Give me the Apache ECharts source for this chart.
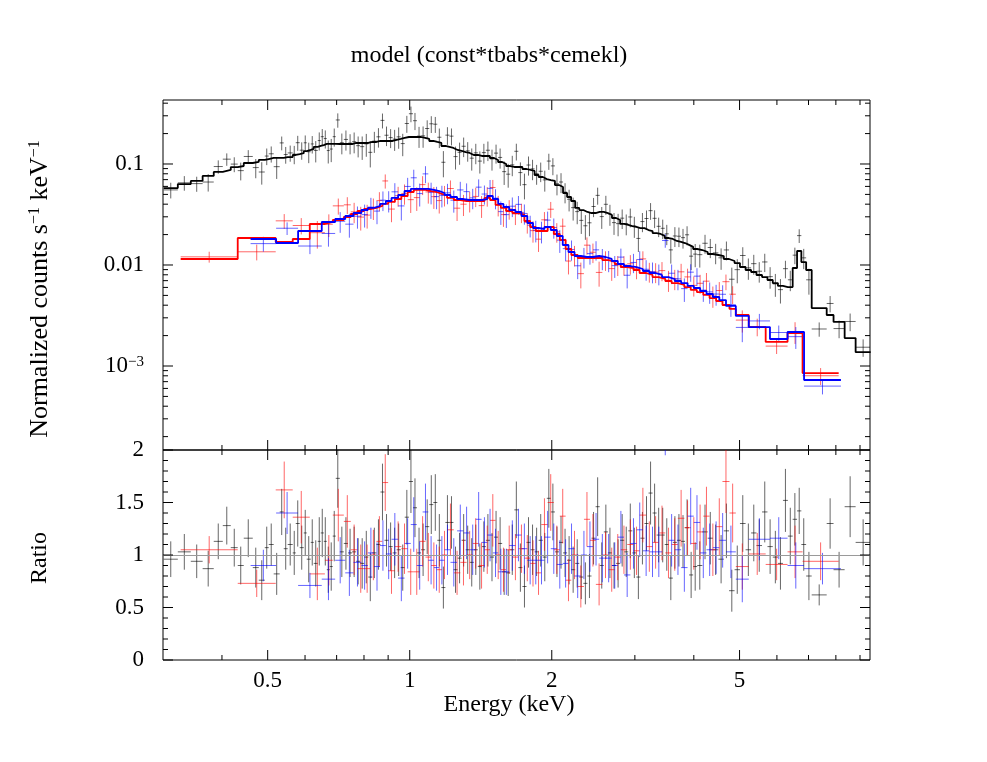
<!DOCTYPE html>
<html><head><meta charset="utf-8">
<script src="https://cdn.jsdelivr.net/npm/echarts@6/dist/echarts.min.js"></script>
<style>html,body{margin:0;padding:0;background:#fff}#c{width:987px;height:762px}</style>
</head><body><div id="c"></div>
<script>
// ---------- data (energy bin edges in keV, model in counts/s/keV, data/model ratio, ratio error) ----------
const blackEdges = [0.301,0.3225,0.3436,0.364,0.3843,0.4016,0.4176,0.432,0.4449,0.4649,0.4787,0.4929,0.5026,0.5149,0.5302,0.5407,0.5513,0.565,0.5734,0.5846,0.5962,0.605,0.6169,0.626,0.6384,0.6478,0.6574,0.6672,0.6768,0.6868,0.697,
0.711,0.725,0.740,0.755,0.770,0.785,0.801,0.817,0.833,0.850,
0.867,0.884,0.902,0.920,0.938,0.957,0.976,0.996,1.016,1.036,
1.057,1.078,1.100,1.122,1.144,1.167,1.190,1.214,1.238,1.263,
1.288,1.314,1.340,1.367,1.394,1.422,1.450,1.479,1.509,1.539,
1.570,1.601,1.633,1.666,1.699,1.733,1.768,1.803,1.839,1.876,
1.914,1.952,1.991,2.031,2.072,2.113,2.155,2.198,2.242,2.287,
2.333,2.380,2.428,2.477,2.527,2.578,2.630,2.683,2.737,2.792,
2.848,2.905,2.963,3.022,3.082,3.144,3.207,3.271,3.336,3.403,
3.471,3.540,3.611,3.683,3.757,3.832,3.909,3.987,4.067,
4.17,4.28,4.39,4.51,4.63,4.75,4.88,5.01,5.15,5.29,
5.43,5.58,5.73,5.88,6.03,6.18,6.33,6.48,6.62,6.76,
6.92,7.11,7.65,7.91,8.35,8.81,9.48];
const blackModel = [0.0577,0.0632,0.0680,0.0762,0.0835,0.0872,0.0932,0.0955,0.1023,0.1047,
0.1096,0.112,0.1147,0.1147,0.1147,0.117,0.117,0.1228,0.125,0.128,
0.134,0.1377,0.141,0.148,0.151,0.154,0.158,0.158,0.158,0.158,
0.1577,0.1577,0.1577,0.1577,0.1614,0.1614,0.1614,0.1614,0.1651,0.1651,
0.1689,0.1689,0.1689,0.1689,0.1728,0.1768,0.1809,0.1850,0.1850,0.1850,
0.1850,0.1809,0.1768,0.1689,0.1651,0.1614,0.1507,0.1473,0.1440,0.1376,
0.1345,0.1314,0.1285,0.1228,0.1228,0.1200,0.1200,0.1200,0.1146,0.1095,
0.1046,0.1000,0.0955,0.0934,0.0934,0.0934,0.0892,0.0872,0.0853,0.0778,
0.0743,0.0710,0.0694,0.0679,0.0619,0.0592,0.0516,0.0471,0.0430,0.0367,
0.0350,0.0335,0.0327,0.0327,0.0335,0.0335,0.0327,0.0313,0.0292,0.0279,
0.0255,0.0249,0.0243,0.0238,0.0232,0.0232,0.0222,0.0217,0.0207,0.0203,
0.0194,0.0185,0.0181,0.0173,0.0169,0.0165,0.0158,0.0151,0.0144,
0.01407,0.01345,0.01285,0.01256,0.01227,0.01146,0.01095,0.01046,0.00955,0.00892,
0.00852,0.00796,0.00760,0.00710,0.00663,0.00620,0.00605,0.00605,0.00934,0.01376,
0.01070,0.00892,0.00375,0.00320,0.00273,0.00189,0.00137];
const blackRatio = [0.96,1.03,0.94,0.87,1.13,1.28,1.07,0.90,1.16,0.88,
0.76,1.07,1.10,0.82,1.41,1.06,1.10,1.02,1.30,1.07,
1.21,0.96,1.12,0.92,1.13,1.21,1.13,0.86,0.89,1.18,
1.73,1.03,1.11,1.02,1.03,0.94,0.92,0.98,0.79,1.02,
1.10,1.60,1.14,1.08,1.02,1.05,0.88,1.36,1.70,1.45,
1.02,1.05,1.27,1.48,1.50,1.14,0.69,1.31,1.31,0.86,
0.97,1.14,1.05,0.93,1.05,0.89,1.08,1.14,0.98,1.17,
1.11,0.84,0.83,1.05,1.43,0.88,0.70,1.12,1.05,1.03,
1.14,0.98,1.54,1.41,1.03,1.12,1.02,0.95,0.86,0.92,
0.79,0.73,0.80,1.16,1.46,0.90,1.22,1.02,0.90,0.92,
1.14,1.03,1.23,1.02,0.79,1.16,1.30,1.59,1.40,1.19,
1.19,1.10,0.78,1.12,1.14,1.13,1.26,0.81,0.89,
0.90,1.22,1.16,1.05,0.96,1.23,0.66,0.86,1.30,1.05,
1.21,1.09,1.41,1.08,0.98,0.92,1.52,1.18,1.34,1.42,
1.10,0.80,0.62,1.30,0.86,1.46,1.12];
const blackErr = [0.17,0.17,0.16,0.17,0.17,0.18,0.18,0.18,0.18,0.19,
0.19,0.2,0.2,0.2,0.22,0.2,0.2,0.21,0.22,0.21,
0.22,0.22,0.22,0.22,0.23,0.23,0.23,0.22,0.23,0.24,
0.28,0.24,0.25,0.23,0.24,0.22,0.24,0.25,0.23,0.24,
0.24,0.27,0.25,0.23,0.24,0.25,0.22,0.26,0.3,0.28,
0.24,0.25,0.26,0.28,0.27,0.25,0.2,0.26,0.25,0.22,
0.24,0.25,0.23,0.23,0.24,0.22,0.24,0.25,0.23,0.25,
0.25,0.22,0.22,0.24,0.27,0.23,0.2,0.24,0.24,0.23,
0.25,0.23,0.28,0.27,0.24,0.25,0.23,0.23,0.22,0.23,
0.21,0.2,0.21,0.25,0.28,0.22,0.26,0.24,0.22,0.23,
0.25,0.24,0.26,0.24,0.21,0.25,0.26,0.3,0.28,0.26,
0.26,0.25,0.21,0.25,0.25,0.25,0.27,0.22,0.23,
0.23,0.26,0.25,0.24,0.23,0.26,0.2,0.23,0.27,0.25,
0.27,0.25,0.29,0.26,0.25,0.25,0.3,0.27,0.25,0.22,
0.25,0.23,0.10,0.24,0.17,0.29,0.22];

const redEdges = [0.327,0.432,0.520,0.565,0.614,0.661,0.687,0.725,0.75,0.775,
0.80,0.825,0.85,0.875,0.90,0.93,0.96,0.99,1.02,1.05,
1.08,1.11,1.14,1.17,1.20,1.24,1.28,1.32,1.36,1.40,
1.44,1.48,1.52,1.56,1.60,1.65,1.70,1.75,1.80,1.85,
1.90,1.96,2.02,2.08,2.14,2.20,2.27,2.34,2.41,2.48,
2.56,2.64,2.72,2.80,2.89,2.98,3.07,3.17,3.27,3.37,
3.48,3.59,3.70,3.82,3.94,4.06,4.19,4.32,4.46,4.60,
4.76,4.91,5.23,5.68,6.32,6.80,8.11];
const redModel = [0.01147,0.01851,0.01689,0.01809,0.02547,0.02665,0.0279,0.02987,0.03199,0.03425,
0.03585,0.03669,0.03839,0.0402,0.0421,0.045,0.0482,0.0528,0.0553,0.0553,
0.054,0.0528,0.0505,0.0493,0.0461,0.044,0.043,0.043,0.043,0.043,
0.0461,0.044,0.0393,0.03669,0.03425,0.0327,0.0313,0.02727,0.02378,0.02171,
0.02171,0.02378,0.02027,0.01768,0.0144,0.01256,0.01173,0.01173,0.01173,0.01173,
0.0112,0.01071,0.01023,0.00955,0.00934,0.00892,0.00833,0.00796,0.0076,0.00727,
0.00694,0.00663,0.00634,0.00605,0.00566,0.0054,0.00505,0.00471,0.0044,0.00402,
0.00367,0.0032,0.00243,0.00173,0.00212,0.000852];
const redRatio = [1.05,0.73,1.62,1.36,0.82,0.95,1.38,1.32,1.05,0.87,
0.87,1.0,1.13,1.69,0.85,1.08,1.06,0.84,0.84,1.13,
0.98,0.90,0.86,1.0,1.24,0.83,0.93,1.0,1.11,0.90,
1.05,1.33,1.0,0.86,1.05,0.98,1.06,0.97,0.92,0.83,
1.29,1.50,1.05,1.37,0.76,1.0,0.70,1.34,1.14,0.72,
1.0,0.86,0.98,1.05,1.10,1.04,1.38,1.08,1.12,1.21,
1.02,1.10,1.35,1.26,1.11,1.22,1.37,1.05,1.27,1.70,
1.40,0.89,1.01,0.91,1.03,0.94];
const redErr = [0.13,0.13,0.27,0.25,0.25,0.24,0.25,0.25,0.24,0.23,
0.23,0.24,0.24,0.27,0.22,0.24,0.24,0.22,0.22,0.24,
0.23,0.22,0.22,0.23,0.25,0.21,0.22,0.23,0.24,0.22,
0.23,0.25,0.23,0.21,0.23,0.22,0.23,0.22,0.22,0.21,
0.25,0.27,0.23,0.26,0.2,0.23,0.2,0.26,0.25,0.2,
0.22,0.21,0.22,0.23,0.24,0.23,0.26,0.24,0.25,0.26,
0.24,0.25,0.27,0.26,0.25,0.26,0.28,0.25,0.27,0.3,
0.28,0.22,0.2,0.15,0.25,0.18];

const blueEdges = [0.46,0.521,0.58,0.651,0.695,0.73,0.76,0.79,0.815,0.84,
0.865,0.89,0.915,0.945,0.975,1.005,1.035,1.065,1.095,1.125,
1.155,1.185,1.22,1.26,1.30,1.34,1.38,1.42,1.46,1.50,
1.54,1.58,1.625,1.675,1.725,1.775,1.825,1.875,1.93,1.99,
2.05,2.11,2.17,2.235,2.305,2.375,2.445,2.52,2.60,2.68,
2.76,2.845,2.935,3.025,3.12,3.22,3.32,3.425,3.535,3.645,
3.76,3.88,4.0,4.125,4.255,4.39,4.53,4.68,4.91,5.23,
5.80,6.32,6.85,8.20];
const blueModel = [0.01809,0.01651,0.02171,0.02665,0.02853,0.03056,0.0327,0.03504,0.03669,0.03839,
0.0402,0.043,0.0461,0.0493,0.054,0.0566,0.0566,0.0566,0.0553,0.054,
0.0516,0.0493,0.0471,0.045,0.044,0.044,0.044,0.045,0.0482,0.045,
0.0402,0.03752,0.03504,0.03347,0.03056,0.02605,0.02324,0.02272,0.02378,0.0222,
0.01937,0.01578,0.01345,0.01228,0.012,0.012,0.01228,0.012,0.01147,0.01095,
0.01023,0.00977,0.00955,0.00913,0.00872,0.00833,0.00796,0.0076,0.00727,0.00694,
0.00663,0.0062,0.00592,0.00553,0.00516,0.00482,0.0045,0.00393,0.00313,0.00243,
0.00185,0.00217,0.000727];
const blueRatio = [0.90,1.40,0.71,0.77,0.95,0.83,0.93,0.90,1.02,0.89,
1.09,1.01,1.15,0.78,1.11,1.29,0.90,1.41,0.95,0.88,
0.95,1.05,0.93,1.23,1.21,1.05,1.34,1.12,1.19,1.02,
0.84,0.84,1.09,1.19,1.06,0.95,0.95,0.95,1.17,1.06,
0.91,0.92,1.06,0.80,1.0,1.08,1.15,0.97,0.97,0.90,
1.17,0.81,1.11,1.24,1.04,1.03,1.03,2.3,1.14,1.05,
0.88,1.37,1.31,1.02,1.05,1.07,1.14,1.03,0.77,1.15,
1.16,0.90,0.87];
const blueErr = [0.15,0.2,0.12,0.2,0.22,0.22,0.23,0.23,0.24,0.23,
0.24,0.24,0.25,0.22,0.24,0.26,0.23,0.27,0.23,0.22,
0.23,0.24,0.23,0.25,0.25,0.24,0.26,0.24,0.25,0.23,
0.22,0.22,0.24,0.25,0.24,0.23,0.23,0.23,0.25,0.24,
0.23,0.23,0.24,0.21,0.23,0.24,0.25,0.23,0.23,0.22,
0.25,0.21,0.24,0.26,0.24,0.24,0.24,0.35,0.25,0.24,
0.23,0.27,0.26,0.24,0.25,0.25,0.26,0.25,0.22,0.2,
0.2,0.22,0.15];

// ---------- axes: ticks and labels ----------
const xMajorTicks = [0.5, 1, 2, 5];
const xTickLabels = ['0.5', '1', '2', '5'];
const xMinorTicks = [0.4, 0.6, 0.7, 0.8, 0.9, 3, 4, 6, 7, 8, 9];
const yFluxMajor = [0.1, 0.01, 0.001];
const yFluxLabels = ['0.1', '0.01', '{b|10}{sup|−3}'];
const yFluxMinor = [2e-4,3e-4,4e-4,5e-4,6e-4,7e-4,8e-4,9e-4,0.002,0.003,0.004,0.005,0.006,0.007,0.008,0.009,0.02,0.03,0.04,0.05,0.06,0.07,0.08,0.09,0.2,0.3,0.4];
const yRatioMajor = [0, 0.5, 1, 1.5, 2];
const yRatioLabels = ['0', '0.5', '1', '1.5', '2'];
const yRatioMinor = [0.1,0.2,0.3,0.4,0.6,0.7,0.8,0.9,1.1,1.2,1.3,1.4,1.6,1.7,1.8,1.9];
const ratioRef = 1;

const FONT = "'Liberation Serif','Times New Roman',serif";
const FS = 23;

function build(edges, model, ratio, err) {
  const n = Math.min(edges.length - 1, model.length, ratio.length, err.length);
  const flux = [], rat = [], step = [];
  for (let i = 0; i < n; i++) {
    const lo = edges[i], hi = edges[i + 1], c = Math.sqrt(lo * hi);
    const m = model[i], r = ratio[i], e = err[i];
    flux.push([lo, hi, c, m * r, m * (r - e), m * (r + e)]);
    rat.push([lo, hi, c, r, r - e, r + e]);
    step.push([lo, m], [hi, m]);
  }
  return { flux, rat, step };
}
const B = build(blackEdges, blackModel, blackRatio, blackErr);
const R = build(redEdges, redModel, redRatio, redErr);
const U = build(blueEdges, blueModel, blueRatio, blueErr);

function crossSeries(g, data, color, z) {
  return {
    type: 'custom', xAxisIndex: g, yAxisIndex: g, z: z, silent: true, animation: false,
    encode: { x: [0, 1, 2], y: [3, 4, 5] },
    data: data,
    renderItem: function (params, api) {
      const cs = params.coordSys;
      const top = cs.y, bot = cs.y + cs.height, left = cs.x, right = cs.x + cs.width;
      const lo = api.value(0), hi = api.value(1), c = api.value(2), y = api.value(3);
      const pc = api.coord([c, y]), pl = api.coord([lo, y]), ph = api.coord([hi, y]);
      const pa = api.coord([c, api.value(4)]), pb = api.coord([c, api.value(5)]);
      const cl = v => Math.max(top, Math.min(bot, v));
      const ch = [];
      const va = cl(pa[1]), vb = cl(pb[1]);
      if (Math.abs(va - vb) > 0.1) ch.push({ type: 'line', shape: { x1: pc[0], y1: va, x2: pc[0], y2: vb }, style: { stroke: color, lineWidth: 1 } });
      if (pc[1] >= top && pc[1] <= bot) ch.push({ type: 'line', shape: { x1: Math.max(left, pl[0]), y1: pc[1], x2: Math.min(right, ph[0]), y2: pc[1] }, style: { stroke: color, lineWidth: 1 } });
      return { type: 'group', children: ch };
    }
  };
}
function stepSeries(data, color, z) {
  return { type: 'line', xAxisIndex: 0, yAxisIndex: 0, data: data, showSymbol: false, symbol: 'none', z: z,
    silent: true, animation: false, lineStyle: { color: color, width: 1.8 } };
}
function xTicks(g, vals, len, yRef) {
  return { type: 'custom', xAxisIndex: g, yAxisIndex: g, z: 10, silent: true, animation: false,
    data: vals.map(v => [v, yRef]),
    renderItem: function (params, api) {
      const cs = params.coordSys;
      const x = api.coord([api.value(0), api.value(1)])[0];
      const st = { stroke: '#000', lineWidth: 1 };
      return { type: 'group', children: [
        { type: 'line', shape: { x1: x, y1: cs.y, x2: x, y2: cs.y + len }, style: st },
        { type: 'line', shape: { x1: x, y1: cs.y + cs.height, x2: x, y2: cs.y + cs.height - len }, style: st }
      ]};
    } };
}
function yTicks(g, vals, len, xRef) {
  return { type: 'custom', xAxisIndex: g, yAxisIndex: g, z: 10, silent: true, animation: false,
    data: vals.map(v => [xRef, v]),
    renderItem: function (params, api) {
      const cs = params.coordSys;
      const y = api.coord([api.value(0), api.value(1)])[1];
      const st = { stroke: '#000', lineWidth: 1 };
      return { type: 'group', children: [
        { type: 'line', shape: { x1: cs.x, y1: y, x2: cs.x + len, y2: y }, style: st },
        { type: 'line', shape: { x1: cs.x + cs.width, y1: y, x2: cs.x + cs.width - len, y2: y }, style: st }
      ]};
    } };
}
const richSup = {
  b: { fontFamily: FONT, fontSize: FS, fill: '#000', verticalAlign: 'bottom' },
  sup: { fontFamily: FONT, fontSize: 15, fill: '#000', verticalAlign: 'top' }
};
function xLabels(g, vals, labels, yRef) {
  return { type: 'custom', xAxisIndex: g, yAxisIndex: g, z: 10, silent: true, animation: false,
    data: vals.map((v, i) => [v, yRef, i]),
    renderItem: function (params, api) {
      const cs = params.coordSys;
      const x = api.coord([api.value(0), api.value(1)])[0];
      return { type: 'text', x: x, y: cs.y + cs.height + 21,
        style: { text: labels[api.value(2)], fontFamily: FONT, fontSize: FS, fill: '#000', align: 'center', verticalAlign: 'middle' } };
    } };
}
function yLabels(g, vals, labels, xRef) {
  return { type: 'custom', xAxisIndex: g, yAxisIndex: g, z: 10, silent: true, animation: false,
    data: vals.map((v, i) => [xRef, v, i]),
    renderItem: function (params, api) {
      const cs = params.coordSys;
      const y = api.coord([api.value(0), api.value(1)])[1];
      return { type: 'text', x: cs.x - 19, y: y,
        style: { text: labels[api.value(2)], fontFamily: FONT, fontSize: FS, fill: '#000', align: 'right', verticalAlign: 'middle', rich: richSup } };
    } };
}

const chart = echarts.init(document.getElementById('c'), null, { renderer: 'canvas' });
const hidden = { axisLine: { show: false }, axisTick: { show: false }, axisLabel: { show: false }, splitLine: { show: false } };
const option = {
  animation: false,
  backgroundColor: '#fff',
  grid: [
    { left: 163, top: 100, width: 707, height: 350, show: true, borderColor: '#000', borderWidth: 1, backgroundColor: 'transparent' },
    { left: 163, top: 450, width: 707, height: 210, show: true, borderColor: '#000', borderWidth: 1, backgroundColor: 'transparent' }
  ],
  xAxis: [
    Object.assign({ type: 'log', logBase: 10, min: 0.3, max: 9.45, gridIndex: 0 }, hidden),
    Object.assign({ type: 'log', logBase: 10, min: 0.3, max: 9.45, gridIndex: 1 }, hidden)
  ],
  yAxis: [
    Object.assign({ type: 'log', logBase: 10, min: 1.474e-4, max: 0.43, gridIndex: 0 }, hidden),
    Object.assign({ type: 'value', min: 0, max: 2, gridIndex: 1 }, hidden)
  ],
  graphic: [
    { type: 'text', x: 489, y: 56, style: { text: 'model (const*tbabs*cemekl)', fontFamily: FONT, fontSize: 24, fill: '#000', align: 'center', verticalAlign: 'middle', textAlign: 'center', textVerticalAlign: 'middle' } },
    { type: 'text', x: 509, y: 705, style: { text: 'Energy (keV)', fontFamily: FONT, fontSize: 24, fill: '#000', align: 'center', verticalAlign: 'middle', textAlign: 'center', textVerticalAlign: 'middle' } },
    { type: 'text', x: 40, y: 289, rotation: Math.PI / 2, style: { text: '{b|Normalized counts s}{sup|−1}{b| keV}{sup|−1}', fontFamily: FONT, fontSize: 26, fill: '#000', align: 'center', verticalAlign: 'middle', textAlign: 'center', textVerticalAlign: 'middle',
        rich: { b: { fontFamily: FONT, fontSize: 26, fill: '#000', verticalAlign: 'bottom' }, sup: { fontFamily: FONT, fontSize: 16, fill: '#000', verticalAlign: 'top' } } } },
    { type: 'text', x: 40, y: 558, rotation: Math.PI / 2, style: { text: 'Ratio', fontFamily: FONT, fontSize: 24, fill: '#000', align: 'center', verticalAlign: 'middle', textAlign: 'center', textVerticalAlign: 'middle' } }
  ],
  series: [
    { type: 'line', xAxisIndex: 1, yAxisIndex: 1, data: [], silent: true, z: 1, animation: false,
      markLine: { silent: true, symbol: 'none', animation: false, label: { show: false }, lineStyle: { color: '#9a9a9a', type: 'solid', width: 1 }, data: [{ yAxis: ratioRef }] } },
    crossSeries(0, B.flux, 'rgba(0,0,0,0.6)', 2),
    crossSeries(0, R.flux, 'rgba(255,0,0,0.6)', 3),
    crossSeries(0, U.flux, 'rgba(0,0,255,0.6)', 3),
    crossSeries(1, B.rat, 'rgba(0,0,0,0.6)', 2),
    crossSeries(1, R.rat, 'rgba(255,0,0,0.6)', 3),
    crossSeries(1, U.rat, 'rgba(0,0,255,0.6)', 3),
    stepSeries(B.step, '#000', 5),
    stepSeries(R.step, '#ff0000', 5),
    stepSeries(U.step, '#0000ff', 6),
    xTicks(0, xMajorTicks, 10, 0.01), xTicks(0, xMinorTicks, 5, 0.01),
    xTicks(1, xMajorTicks, 10, 1), xTicks(1, xMinorTicks, 5, 1),
    yTicks(0, yFluxMajor, 10, 1), yTicks(0, yFluxMinor, 5, 1),
    yTicks(1, yRatioMajor, 10, 1), yTicks(1, yRatioMinor, 5, 1),
    xLabels(1, xMajorTicks, xTickLabels, 1),
    yLabels(0, yFluxMajor, yFluxLabels, 1),
    yLabels(1, yRatioMajor, yRatioLabels, 1)
  ]
};
chart.setOption(option);
</script>
</body></html>
